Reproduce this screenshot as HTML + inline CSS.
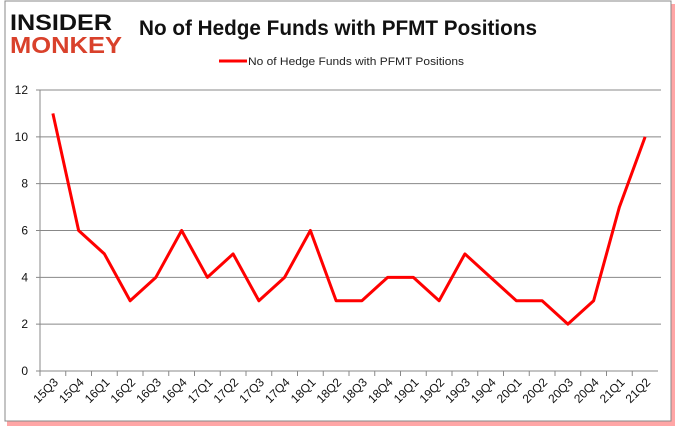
<!DOCTYPE html>
<html><head><meta charset="utf-8"><style>
body{margin:0;background:#fff;width:678px;height:431px;overflow:hidden;font-family:"Liberation Sans",sans-serif}
</style></head><body>
<svg width="678" height="431">
<rect x="7" y="4" width="668" height="422" fill="#f00" opacity="0.35"/>
<rect x="5" y="1" width="666" height="420" fill="#fff" stroke="#888"/>
<g>
<text x="10" y="30" font-size="22" font-weight="bold" fill="#111" textLength="102" lengthAdjust="spacingAndGlyphs">INSIDER</text>
<text x="10" y="53" font-size="23" font-weight="bold" fill="#d9412b" textLength="112" lengthAdjust="spacingAndGlyphs">MONKEY</text>
</g>
<text x="139" y="35" font-size="21" font-weight="bold" fill="#111" textLength="398" lengthAdjust="spacingAndGlyphs">No of Hedge Funds with PFMT Positions</text>
<line x1="219" y1="61" x2="247" y2="61" stroke="#f00" stroke-width="3"/>
<text x="248" y="65" font-size="11" fill="#222" textLength="216" lengthAdjust="spacingAndGlyphs">No of Hedge Funds with PFMT Positions</text>
<g id="plot"></g>
</svg>
<script>
const categories=["15Q3","15Q4","16Q1","16Q2","16Q3","16Q4","17Q1","17Q2","17Q3","17Q4","18Q1","18Q2","18Q3","18Q4","19Q1","19Q2","19Q3","19Q4","20Q1","20Q2","20Q3","20Q4","21Q1","21Q2"];
const values=[11,6,5,3,4,6,4,5,3,4,6,3,3,4,4,3,5,4,3,3,2,3,7,10];
const yTicks=[0,2,4,6,8,10,12];
const NS="http://www.w3.org/2000/svg";
const g=document.getElementById('plot');
const x0=40,x1=658,yTop=90,yBot=371,yMax=12;
const bw=(x1-x0)/categories.length;
const xs=i=>x0+bw*(i+0.5);
const ys=v=>yBot-(v/yMax)*(yBot-yTop);
function mk(t,a){const e=document.createElementNS(NS,t);for(const k in a)e.setAttribute(k,a[k]);g.appendChild(e);return e;}
yTicks.forEach(t=>{
 const l=mk('line',{x1:x0-4,x2:(t===0?x1:661),y1:ys(t),y2:ys(t),stroke:'#888','stroke-width':1});
 
 
 const tx=mk('text',{x:28,y:ys(t)+4,'font-size':12,'text-anchor':'end',fill:'#111'});
 tx.textContent=t;
 
 
});
const ax=mk('line',{x1:x0,x2:x0,y1:yTop,y2:yBot,stroke:'#888'});


categories.forEach((c,i)=>{
 const tk=mk('line',{x1:x0+bw*i,x2:x0+bw*i,y1:yBot,y2:yBot+5,stroke:'#888'});
 
 
 const cx=xs(i)+6,cy=yBot+12;
 const tx=mk('text',{x:cx,y:cy,'font-size':12,'text-anchor':'end',fill:'#111',transform:`rotate(-45 ${cx} ${cy})`});
 tx.textContent=c;
 
 
});
const p=mk('polyline',{points:values.map((v,i)=>xs(i)+','+ys(v)).join(' '),fill:'none',stroke:'#f00','stroke-width':3,'stroke-linejoin':'round'});


</script>
</body></html>
